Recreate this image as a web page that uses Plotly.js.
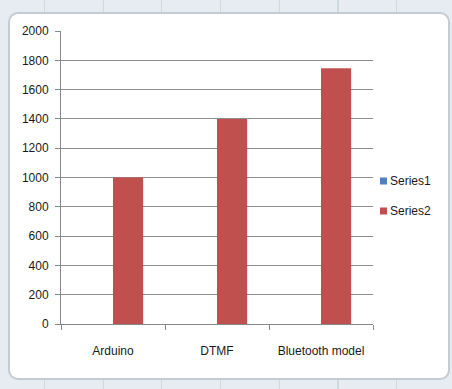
<!DOCTYPE html>
<html>
<head>
<meta charset="utf-8">
<script src="https://cdn.plot.ly/plotly-3.0.1.min.js"></script>
<style>
  html, body { margin: 0; padding: 0; }
  body {
    width: 452px; height: 389px; overflow: hidden; position: relative;
    background-color: #e6ecf1;
    background-image: repeating-linear-gradient(90deg, transparent 0px, transparent 44px, #d0d8e0 44px, #d0d8e0 45px, transparent 45px, transparent 58.7px);
  }
  #frame {
    position: absolute; left: 8px; top: 12px; width: 438px; height: 364px;
    border: 2px solid #c3cbd3; border-radius: 10px; background: #ffffff; overflow: hidden;
  }
  #chart { width: 438px; height: 364px; }
</style>
</head>
<body>
<div id="frame"><div id="chart"></div></div>
<script>
const categories = ["Arduino", "DTMF", "Bluetooth model"];
const seriesNames = ["Series1", "Series2"];
const seriesColors = ["#4f81bd", "#c0504d"];
const series1 = [null, null, null];
const series2 = [1000, 1400, 1745];
const yTicks = [0, 200, 400, 600, 800, 1000, 1200, 1400, 1600, 1800, 2000];

const font = { family: "Liberation Sans, Arial, sans-serif", size: 12, color: "#1a1a1a" };

// custom legend (plot area: 312 x 293 px)
const legendY = [0.488, 0.386];
const sq = 3.5 / 293;
const shapes = seriesNames.map((n, i) => ({
  type: "rect", xref: "paper", yref: "paper",
  x0: 1.0224, x1: 1.0449, y0: legendY[i] - sq, y1: legendY[i] + sq,
  fillcolor: seriesColors[i], line: { width: 0 }
}));
const annotations = seriesNames.map((n, i) => ({
  xref: "paper", yref: "paper", x: 1.049, y: legendY[i],
  xanchor: "left", yanchor: "middle", text: n, showarrow: false, font: font
}));

Plotly.newPlot("chart", [
  { type: "bar", name: seriesNames[0], x: categories, y: series1, marker: { color: seriesColors[0] } },
  { type: "bar", name: seriesNames[1], x: categories, y: series2, marker: { color: seriesColors[1] } }
], {
  width: 438, height: 364,
  margin: { l: 51, r: 75, t: 17, b: 54, autoexpand: false },
  paper_bgcolor: "rgba(0,0,0,0)", plot_bgcolor: "rgba(0,0,0,0)",
  barmode: "group", bargap: 0.42, bargroupgap: 0,
  font: font,
  showlegend: false,
  shapes: shapes,
  annotations: annotations,
  xaxis: {
    type: "category", tickson: "boundaries", ticks: "outside", ticklen: 5, tickcolor: "#888888",
    showline: true, linecolor: "#888888", linewidth: 1, showgrid: false,
    tickfont: font, ticklabelstandoff: 16, fixedrange: true
  },
  yaxis: {
    range: [0, 2000], tickvals: yTicks, ticktext: yTicks.map(String),
    ticks: "outside", ticklen: 5, tickcolor: "#888888",
    showline: true, linecolor: "#888888", linewidth: 1,
    showgrid: true, gridcolor: "#8c8c8c", gridwidth: 1, zeroline: false,
    tickfont: font, ticklabelstandoff: 4, fixedrange: true
  }
}, { displayModeBar: false, staticPlot: true });
</script>
</body>
</html>
